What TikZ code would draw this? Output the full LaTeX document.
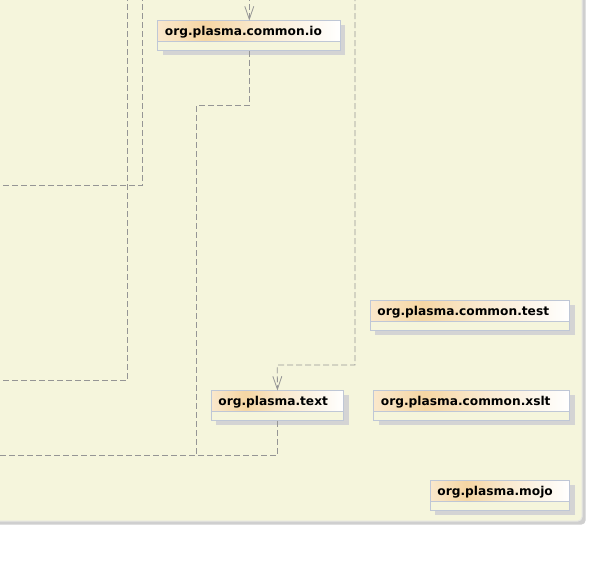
\documentclass[tikz,border=0pt]{standalone}
\usepackage{fontspec}
\setmainfont{DejaVu Sans}
\usetikzlibrary{arrows.meta,calc}
\definecolor{panelfill}{HTML}{F5F5DC}
\definecolor{panelborder}{HTML}{E6E6E2}
\definecolor{panelshadow}{HTML}{CFCFCF}
\definecolor{boxborder}{HTML}{BFC7D6}
\definecolor{boxshadow}{HTML}{D4D4D4}
\definecolor{hdrA}{HTML}{FAE8CC}
\definecolor{hdrB}{HTML}{F5D6A4}
\definecolor{linegrey}{HTML}{959595}
\pgfdeclarehorizontalshading{hdrshade}{100bp}{color(0bp)=(hdrA); color(25bp)=(hdrA); color(38bp)=(hdrB); color(52bp)=(hdrB!55!white); color(75bp)=(white); color(100bp)=(white)}
\tikzset{
  dep/.style={draw=linegrey, line width=0.8pt, dash pattern=on 6pt off 3pt},
  deparrow/.style={dep, -{Straight Barb[length=13pt,width=9pt,line width=0.8pt]}},
  pkgframe/.style={draw=boxborder, line width=0.8pt},
  pkglabel/.style={inner sep=0pt, anchor=base west, font=\bfseries\fontsize{12.2pt}{14pt}\selectfont, text=black},
}
% #1 name, #2 x1, #3 y1, #4 x2, #5 label
\newcommand{\pkgbox}[5]{%
  \fill[boxshadow] (#2+5,#3+4.5) rectangle (#4+5,#3+34.5);
  \fill[panelfill] (#2,#3) rectangle (#4,#3+30);
  \shade[shading=hdrshade] (#2,#3) rectangle (#4,#3+21);
  \draw[pkgframe] (#2,#3) rectangle (#4,#3+30);
  \draw[pkgframe] (#2,#3+21) -- (#4,#3+21);
  \node[pkglabel] at (#2+7.2,#3+15.3) {#5};
  \node[inner sep=0pt, minimum width=#4-#2, minimum height=30pt, anchor=north west] (#1) at (#2,#3) {};
}
\begin{document}
\begin{tikzpicture}[x=1pt,y=-1pt]
\useasboundingbox (0,0) rectangle (590,565);
\fill[white] (0,0) rectangle (590,565);
% panel
\fill[panelshadow, rounded corners=4pt] (-10,-10) rectangle (585.5,524.5);
\filldraw[fill=panelfill, draw=panelborder, line width=1pt, rounded corners=4pt] (-10,-10) rectangle (582,521);
% packages
\pkgbox{io}{157.5}{20.5}{340}{org.plasma.common.io}
\pkgbox{text}{211}{390.5}{343.5}{org.plasma.text}
\pkgbox{test}{370}{300.5}{569.5}{org.plasma.common.test}
\pkgbox{xslt}{373.5}{390.5}{569.5}{org.plasma.common.xslt}
\pkgbox{mojo}{430}{480.5}{569.5}{org.plasma.mojo}
% free ends
\coordinate (aTop) at (142.7,-5);
\coordinate (aEnd) at (-5,185);
\coordinate (bTop) at (127.3,-5);
\coordinate (bEnd) at (-5,380.3);
\coordinate (ioIn) at (249.3,-5);
\coordinate (tIn) at (355,-5);
\coordinate (cEnd) at (-5,455.3);
\coordinate (join) at (196.7,455.3);
% connectors
\draw[dep] (aTop) |- (aEnd);
\draw[dep] (bTop) |- (bEnd);
\draw[deparrow] (ioIn) -- (ioIn |- io.north);
\draw[dep] (io.south -| ioIn) -- (249.3,105.3) -- (196.7,105.3) -- (join) -- (cEnd);
\draw[dep] (text.south) |- (join);
\draw[deparrow] (tIn) -- (355,365) -- (277.25,365) -- (text.north);
\end{tikzpicture}
\end{document}
